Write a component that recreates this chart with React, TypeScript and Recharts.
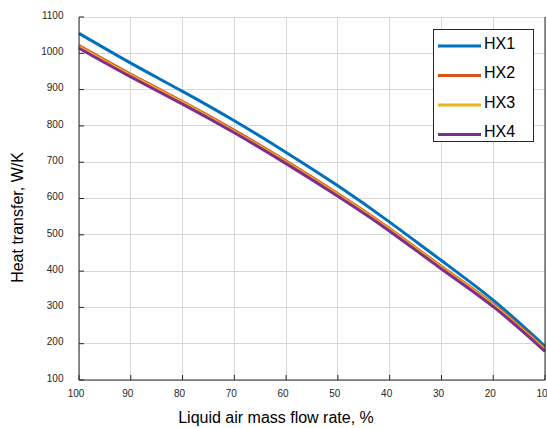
import React from 'react';
import { LineChart, Line, XAxis, YAxis, Legend, CartesianGrid } from 'recharts';

const flowRate = [100, 90, 80, 70, 60, 50, 40, 30, 20, 10];
const hx1 = [1055, 973, 895, 814, 727, 635, 535, 429, 320, 193];
const hx2 = [1021, 942, 867, 788, 703, 613, 517, 413, 309, 186];
const hx3 = [1018, 939, 864, 784, 700, 610, 514, 410, 306, 183];
const hx4 = [1014, 935, 860, 781, 696, 606, 510, 406, 302, 179];

const seriesNames = ['HX1', 'HX2', 'HX3', 'HX4'];
const seriesColors = ['#0072BD', '#D95319', '#EDB120', '#7E2F8E'];
const seriesValues = [hx1, hx2, hx3, hx4];

const xTicks = [100, 90, 80, 70, 60, 50, 40, 30, 20, 10];
const yTicks = [100, 200, 300, 400, 500, 600, 700, 800, 900, 1000, 1100];

const xLabel = 'Liquid air mass flow rate, %';
const yLabel = 'Heat transfer, W/K';

const data = flowRate.map((x, i) => {
  const row: Record<string, number> = { x };
  seriesNames.forEach((n, k) => {
    row[n] = seriesValues[k][i];
  });
  return row;
});

const AXIS = '#262626';
const GRID = '#d6d6d6';
const FONT = '"Liberation Sans", Arial, Helvetica, sans-serif';

const BottomTick = (props: any) => {
  const { x, y, payload } = props;
  return (
    <text x={x - 3} y={y + 4.7} textAnchor="middle" fontSize={10} fill={AXIS} fontFamily={FONT}>
      {payload.value}
    </text>
  );
};

const LeftTick = (props: any) => {
  const { x, y, payload } = props;
  return (
    <text x={x} y={y + 1.7} textAnchor="end" fontSize={10} fill={AXIS} fontFamily={FONT}>
      {payload.value}
    </text>
  );
};

const EmptyTick = () => <g />;

const LegendBox = (props: any) => {
  const payload = props.payload || [];
  return (
    <div
      style={{
        width: 101,
        height: 113,
        boxSizing: 'border-box',
        border: `1px solid ${AXIS}`,
        background: '#fff',
      }}
    >
      <svg width={99} height={111} style={{ display: 'block' }}>
        {payload.map((p: any, i: number) => {
          const cy = 16 + i * 29.5;
          return (
            <g key={p.value}>
              <line x1={4} x2={47} y1={cy} y2={cy} stroke={p.color} strokeWidth={3} />
              <text x={50} y={cy + 2.5} fontSize={16} fill="#000" fontFamily={FONT}>
                {p.value}
              </text>
            </g>
          );
        })}
      </svg>
    </div>
  );
};

function XLabelContent(props: any) {
  const vb = props.viewBox;
  return (
    <text x={vb.x + vb.width / 2 - 36} y={423.3} textAnchor="middle" fontSize={16} fill="#000" fontFamily={FONT}>
      {xLabel}
    </text>
  );
}

function YLabelContent(props: any) {
  const vb = props.viewBox;
  const cy = vb.y + vb.height / 2 + 19;
  const cx = 22.7;
  return (
    <text
      x={cx}
      y={cy}
      textAnchor="middle"
      fontSize={16}
      fill="#000"
      fontFamily={FONT}
      transform={`rotate(-90 ${cx} ${cy})`}
    >
      {yLabel}
    </text>
  );
}

export default function App() {
  return (
    <div style={{ position: 'absolute', left: 0, top: 0, width: 547, height: 428, background: '#fff' }}>
      <LineChart width={547} height={428} data={data} margin={{ top: 17, right: 0, bottom: 0, left: 0 }}>
        <CartesianGrid stroke={GRID} strokeWidth={1} shapeRendering="crispEdges" />
        <XAxis
          dataKey="x"
          type="number"
          domain={[10, 100]}
          reversed
          ticks={xTicks}
          interval={0}
          height={48}
          stroke={AXIS}
          tickSize={-5}
          tickMargin={17}
          tick={<BottomTick />}
          label={<XLabelContent />}
        />
        <XAxis
          xAxisId="top"
          orientation="top"
          dataKey="x"
          type="number"
          domain={[10, 100]}
          reversed
          ticks={xTicks}
          interval={0}
          height={0}
          stroke={AXIS}
          tickSize={-5}
          tick={<EmptyTick />}
        />
        <YAxis
          type="number"
          domain={[100, 1100]}
          ticks={yTicks}
          interval={0}
          width={79}
          stroke={AXIS}
          tickSize={-5}
          tickMargin={20.5}
          tick={<LeftTick />}
          label={<YLabelContent />}
        />
        <YAxis
          yAxisId="right"
          orientation="right"
          type="number"
          domain={[100, 1100]}
          ticks={yTicks}
          interval={0}
          width={2}
          stroke={AXIS}
          tickSize={-5}
          tick={<EmptyTick />}
        />
        <Legend
          layout="vertical"
          align="center"
          verticalAlign="middle"
          content={<LegendBox />}
          wrapperStyle={{ left: 433, top: 29, width: 101, height: 113, right: 'auto', bottom: 'auto' }}
        />
        {seriesNames.map((n, k) => (
          <Line
            key={n}
            dataKey={n}
            name={n}
            type="natural"
            stroke={seriesColors[k]}
            strokeWidth={3}
            dot={false}
            activeDot={false}
            isAnimationActive={false}
          />
        ))}
      </LineChart>
    </div>
  );
}
